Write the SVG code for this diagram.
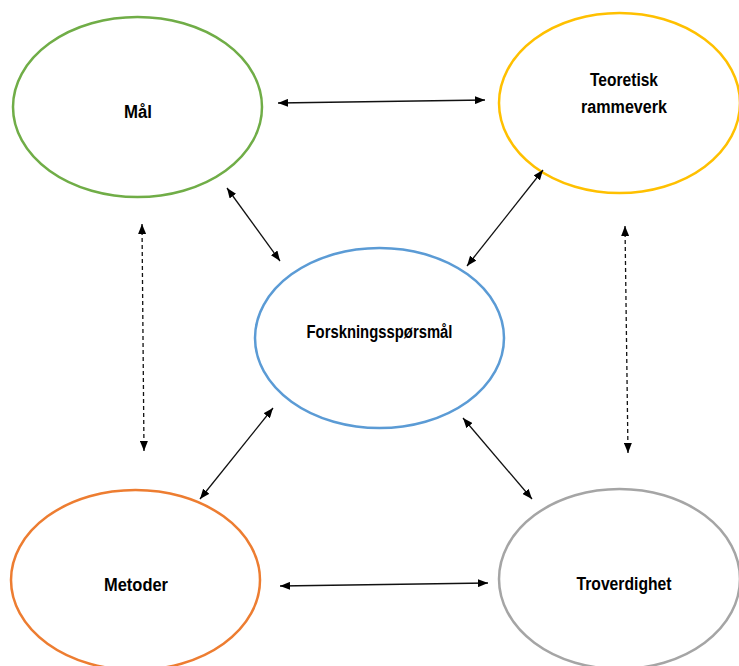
<svg xmlns="http://www.w3.org/2000/svg" width="739" height="666" viewBox="0 0 739 666">
  <defs>
    <marker id="ah" viewBox="0 0 10 8" refX="10" refY="4" markerWidth="10" markerHeight="8" markerUnits="userSpaceOnUse" orient="auto-start-reverse">
      <path d="M0,0 L10,4 L0,8 z" fill="#000"/>
    </marker>
  </defs>
  <style>
    .node { fill: #fff; stroke-width: 2.5; }
    .lbl { font-family: "Liberation Sans", Arial, sans-serif; font-weight: bold; font-size: 17.5px; fill: #000; text-anchor: middle; }
    .con { stroke: #111; stroke-width: 1.3; fill: none; marker-start: url(#ah); marker-end: url(#ah); }
    .dash { stroke-dasharray: 4 3; }
  </style>
  <rect width="739" height="666" fill="#fff"/>

  <g id="maal">
    <ellipse class="node" cx="137.5" cy="107" rx="124.5" ry="90" stroke="#70AD47"/>
    <text class="lbl" x="138" y="118" textLength="28" lengthAdjust="spacingAndGlyphs">Mål</text>
  </g>
  <g id="teoretisk">
    <ellipse class="node" cx="619.5" cy="103" rx="120.5" ry="90" stroke="#FFC000"/>
    <text class="lbl" x="624" y="86" textLength="68" lengthAdjust="spacingAndGlyphs">Teoretisk</text>
    <text class="lbl" x="624" y="113" textLength="86" lengthAdjust="spacingAndGlyphs">rammeverk</text>
  </g>
  <g id="forskning">
    <ellipse class="node" cx="379.5" cy="338" rx="124.5" ry="90" stroke="#5B9BD5"/>
    <text class="lbl" x="379.5" y="338" textLength="146" lengthAdjust="spacingAndGlyphs">Forskningsspørsmål</text>
  </g>
  <g id="metoder">
    <ellipse class="node" cx="135.5" cy="580" rx="124.5" ry="90" stroke="#ED7D31"/>
    <text class="lbl" x="136" y="591" textLength="64" lengthAdjust="spacingAndGlyphs">Metoder</text>
  </g>
  <g id="troverdighet">
    <ellipse class="node" cx="619.5" cy="579" rx="120.5" ry="90" stroke="#A5A5A5"/>
    <text class="lbl" x="624" y="590" textLength="95" lengthAdjust="spacingAndGlyphs">Troverdighet</text>
  </g>

  <g id="connectors">
    <line class="con" x1="278" y1="103" x2="485" y2="100"/>
    <line class="con" x1="280" y1="586" x2="488" y2="583"/>
    <line class="con" x1="227" y1="188" x2="280" y2="261"/>
    <line class="con" x1="543" y1="170" x2="467" y2="266"/>
    <line class="con" x1="273" y1="408" x2="200" y2="499"/>
    <line class="con" x1="463" y1="418" x2="532" y2="499"/>
    <line class="con dash" x1="142" y1="224" x2="144" y2="451"/>
    <line class="con dash" x1="625" y1="226" x2="628" y2="453"/>
  </g>
</svg>
